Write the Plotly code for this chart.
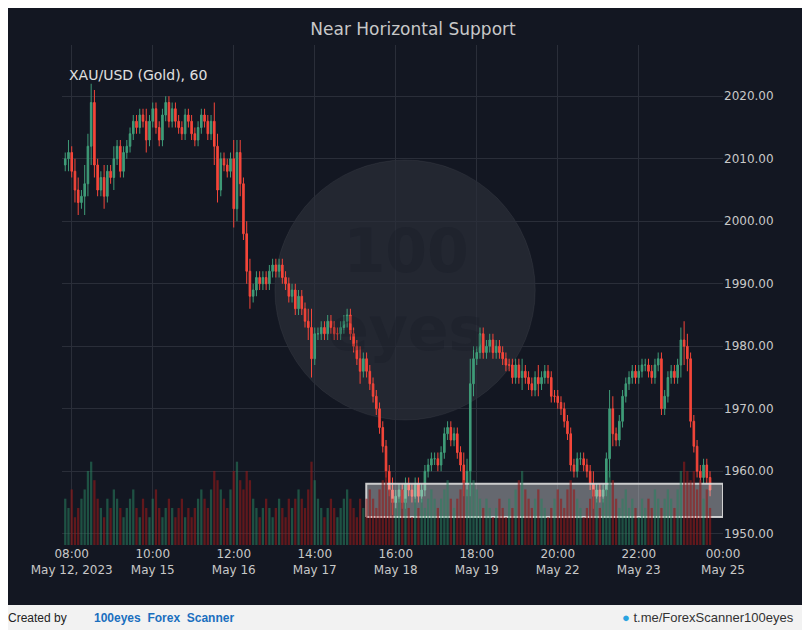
import plotly.graph_objects as go

closes = [
 2010, 2011, 2008, 2005, 2003, 2004, 2006, 2012, 2019, 2009,
 2005, 2007, 2004, 2008, 2007, 2010, 2012, 2008, 2011, 2012,
 2014, 2016, 2015, 2017, 2016, 2013, 2016, 2018, 2015, 2013,
 2017, 2019, 2016, 2018, 2016, 2015, 2014, 2017, 2016, 2014,
 2013, 2015, 2017, 2016, 2014, 2016, 2012, 2005, 2010, 2009,
 2008, 2010, 2002, 2011, 2006, 1998, 1992, 1988, 1989, 1991,
 1990, 1991, 1990, 1992, 1993, 1992, 1993, 1991, 1990, 1988,
 1989, 1986, 1988, 1986, 1984, 1983, 1978, 1982, 1982, 1983,
 1982, 1984, 1983, 1982, 1982, 1983, 1984, 1985, 1982, 1980,
 1978, 1976, 1978, 1976, 1974, 1972, 1970, 1967, 1964, 1960,
 1957, 1955, 1956, 1957, 1955, 1958, 1957, 1956, 1958, 1956,
 1957, 1960, 1961, 1962, 1962, 1961, 1963, 1966, 1967, 1965,
 1966, 1963, 1961, 1958, 1960, 1974, 1978, 1979, 1982, 1979,
 1980, 1981, 1979, 1980, 1979, 1978, 1977, 1977, 1975, 1977,
 1975, 1976, 1975, 1974, 1973, 1975, 1974, 1975, 1976, 1975,
 1972, 1972, 1971, 1970, 1968, 1966, 1961, 1960, 1962, 1962,
 1961, 1960, 1958, 1956, 1957, 1956, 1957, 1962, 1970, 1966,
 1965, 1968, 1972, 1974, 1975, 1976, 1975, 1976, 1977, 1977,
 1976, 1975, 1977, 1978, 1970, 1972, 1975, 1976, 1975, 1977,
 1981, 1980, 1978, 1968, 1964, 1960, 1959, 1961, 1959, 1957,
]
first_open = 2009
wick = [
 1, 2, 1, 2, 2, 1, 3, 2, 3, 2,
 1, 1, 2, 1, 1, 2, 1, 1, 1, 1,
 1, 1, 1, 1, 1, 2, 1, 1, 1, 1,
 1, 1, 1, 1, 1, 1, 1, 1, 1, 1,
 1, 1, 1, 1, 1, 1, 3, 2, 1, 1,
 1, 1, 3, 2, 2, 1, 2, 2, 1, 1,
 1, 1, 1, 1, 1, 1, 1, 1, 1, 1,
 1, 1, 1, 1, 1, 2, 3, 1, 1, 1,
 1, 1, 1, 1, 1, 1, 1, 1, 1, 1,
 1, 2, 1, 1, 1, 1, 1, 1, 1, 1,
 1, 2, 1, 1, 1, 1, 1, 1, 1, 1,
 1, 1, 1, 1, 1, 1, 1, 1, 1, 1,
 1, 1, 1, 2, 2, 4, 2, 1, 1, 1,
 1, 1, 1, 1, 1, 1, 1, 1, 1, 1,
 1, 2, 1, 1, 1, 1, 2, 1, 1, 1,
 1, 1, 1, 1, 1, 1, 1, 1, 1, 1,
 1, 1, 1, 2, 1, 1, 1, 1, 3, 2,
 1, 1, 1, 1, 1, 1, 1, 1, 1, 1,
 1, 1, 1, 1, 1, 1, 1, 1, 1, 1,
 2, 3, 2, 1, 1, 1, 1, 1, 1, 1,
]
volumes = [
 5, 4, 6, 3, 4, 5, 6, 8, 9, 7,
 5, 4, 3, 5, 4, 6, 5, 4, 3, 4,
 5, 6, 4, 3, 5, 4, 3, 5, 6, 4,
 3, 4, 5, 4, 3, 4, 5, 3, 4, 3,
 4, 5, 6, 5, 4, 6, 8, 7, 6, 5,
 4, 6, 8, 9, 7, 6, 8, 7, 5, 4,
 3, 4, 5, 4, 3, 4, 5, 4, 3, 5,
 4, 5, 6, 5, 4, 6, 9, 7, 5, 4,
 3, 4, 5, 4, 3, 4, 5, 6, 5, 4,
 3, 5, 4, 5, 6, 5, 4, 6, 7, 8,
 6, 5, 4, 5, 6, 5, 4, 3, 5, 4,
 5, 4, 5, 6, 5, 4, 5, 6, 7, 5,
 4, 5, 6, 7, 6, 8, 7, 6, 5, 4,
 5, 4, 3, 4, 5, 4, 3, 5, 4, 6,
 7, 8, 6, 5, 4, 5, 6, 5, 4, 3,
 4, 5, 6, 5, 4, 6, 7, 6, 5, 4,
 3, 4, 5, 6, 5, 4, 5, 6, 8, 7,
 5, 4, 5, 6, 4, 5, 4, 3, 5, 4,
 5, 4, 6, 5, 4, 5, 6, 5, 4, 6,
 8, 9, 8, 7, 8, 6, 7, 5, 6, 4,
]
tick_pos = [2, 27, 52, 77, 102, 127, 152, 177, 203]
tick_labels = ["08:00<br>May 12, 2023", "10:00<br>May 15", "12:00<br>May 16", "14:00<br>May 17",
               "16:00<br>May 18", "18:00<br>May 19", "20:00<br>May 22", "22:00<br>May 23", "00:00<br>May 25"]
support_low, support_high = 1952.7, 1958.0
support_start, support_end = 92.9, 203

idx = list(range(len(closes)))
opens = [first_open] + closes[:-1]
highs = [max(o, c) + w for o, c, w in zip(opens, closes, wick)]
lows = [min(o, c) - w for o, c, w in zip(opens, closes, wick)]
up = [c >= o for o, c in zip(opens, closes)]

GREEN = "#3f9c78"
RED = "#f5463a"
BG = "#131722"

fig = go.Figure()
fig.add_trace(go.Bar(
    x=idx, y=volumes, yaxis="y2",
    marker=dict(color=["rgba(40,130,95,0.55)" if u else "rgba(150,25,25,0.6)" for u in up], line_width=0),
    showlegend=False, hoverinfo="skip"))
fig.add_trace(go.Candlestick(
    x=idx, open=opens, high=highs, low=lows, close=closes,
    increasing=dict(line=dict(color=GREEN, width=1), fillcolor=GREEN),
    decreasing=dict(line=dict(color=RED, width=1), fillcolor=RED),
    whiskerwidth=0, showlegend=False))
# support zone drawn as a filled scatter on the main axes
fig.add_trace(go.Scatter(
    x=[support_start, support_end, support_end, support_start, support_start],
    y=[support_low, support_low, support_high, support_high, support_low],
    mode="lines", fill="toself", fillcolor="rgba(255,255,255,0.35)",
    line=dict(color="rgba(220,220,220,0.9)", width=2), showlegend=False, hoverinfo="skip"))

# watermark
fig.add_shape(type="circle", xref="paper", yref="paper", x0=0.322, x1=0.716, y0=0.25, y1=0.77,
              fillcolor="rgba(255,255,255,0.07)", line=dict(color="rgba(255,255,255,0.05)", width=1), layer="below")
fig.add_annotation(xref="paper", yref="paper", x=0.52, y=0.51, text="<b>100<br>eyes</b>", showarrow=False,
                   font=dict(size=60, color="rgba(19,23,34,0.25)", family="DejaVu Sans"))
# footer
fig.add_shape(type="rect", xref="paper", yref="paper", x0=-0.2, x1=1.3, y0=-0.3, y1=-0.12,
              fillcolor="#f2f2f2", line_width=0)
fig.add_annotation(xref="paper", yref="paper", x=-0.085, y=-0.164, xanchor="left", showarrow=False,
                   text="Created by", font=dict(size=12, color="#222", family="Liberation Sans"))
fig.add_annotation(xref="paper", yref="paper", x=0.045, y=-0.164, xanchor="left", showarrow=False,
                   text="<b>100eyes  Forex  Scanner</b>", font=dict(size=12, color="#1a6fbf", family="Liberation Sans"))
fig.add_annotation(xref="paper", yref="paper", x=1.11, y=-0.164, xanchor="right", showarrow=False,
                   text="<span style='color:#2aa3e0'>●</span> t.me/ForexScanner100eyes",
                   font=dict(size=13, color="#333", family="Liberation Sans"))
fig.add_annotation(xref="paper", yref="paper", x=0.008, y=0.96, xanchor="left", showarrow=False,
                   text="XAU/USD (Gold), 60", font=dict(size=14, color="#e0e0e0", family="DejaVu Sans"))

fig.update_layout(
    width=810, height=630,
    paper_bgcolor=BG, plot_bgcolor=BG,
    margin=dict(l=54, r=95, t=37, b=93),
    title=dict(text="Near Horizontal Support", x=0.5, xanchor="center", y=0.976,
               font=dict(size=17, color="#c8c8c8", family="DejaVu Sans")),
    bargap=0.3,
    xaxis=dict(range=[-1, 203], tickvals=tick_pos, ticktext=tick_labels, showgrid=True,
               gridcolor="#2a2e39", zeroline=False, rangeslider=dict(visible=False),
               tickfont=dict(size=12, color="#c8c8c8", family="DejaVu Sans"), showline=False),
    yaxis=dict(range=[1948.2, 2028.2], side="right", tickvals=list(range(1950, 2021, 10)),
               tickformat=".2f", gridcolor="#2a2e39", zeroline=False,
               tickfont=dict(size=12, color="#c8c8c8", family="DejaVu Sans")),
    yaxis2=dict(overlaying="y", range=[0, 9 * 6.0], visible=False),
    font=dict(family="DejaVu Sans"),
)
fig.write_html("out.html")
